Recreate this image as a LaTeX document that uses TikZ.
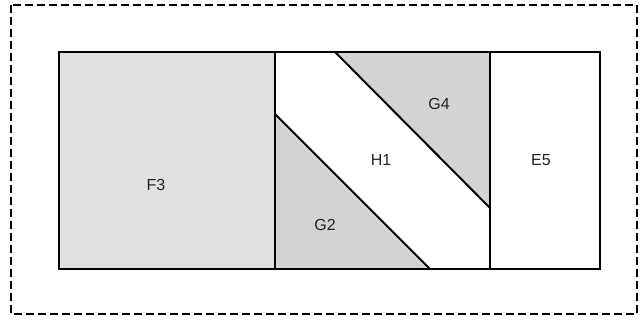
\documentclass[tikz,border=0pt]{standalone}
\usepackage{fontspec}
\setmainfont{Liberation Sans}
\begin{document}
\begin{tikzpicture}[x=1pt,y=-1pt,
  edge/.style={draw=black,line width=2pt,line join=miter},
  lbl/.style={font=\fontsize{16}{18}\selectfont,text={rgb,255:red,34;green,34;blue,34},inner sep=0pt}]
\useasboundingbox (0,0) rectangle (640,320);
\draw[line width=2.2pt,dash pattern=on 8pt off 4pt] (11,5) rectangle (637,314);
\fill[fill={rgb,255:red,224;green,224;blue,224}] (59,52) rectangle (275,269);
\fill[fill={rgb,255:red,211;green,211;blue,211}] (275,114) -- (275,269) -- (430,269) -- cycle;
\fill[fill={rgb,255:red,211;green,211;blue,211}] (335,52) -- (490,52) -- (490,208) -- cycle;
\draw[edge] (275,114) -- (430,269);
\draw[edge] (335,52) -- (490,208);
\draw[edge] (275,52) -- (275,269);
\draw[edge] (490,52) -- (490,269);
\draw[edge] (59,52) rectangle (600,269);
\node[lbl] (F3) at (156,185) {F3};
\node[lbl] (G4) at (439,104) {G4};
\node[lbl] (H1) at (381,160) {H1};
\node[lbl] (E5) at (541,160) {E5};
\node[lbl] (G2) at (325,225) {G2};
\end{tikzpicture}
\end{document}
